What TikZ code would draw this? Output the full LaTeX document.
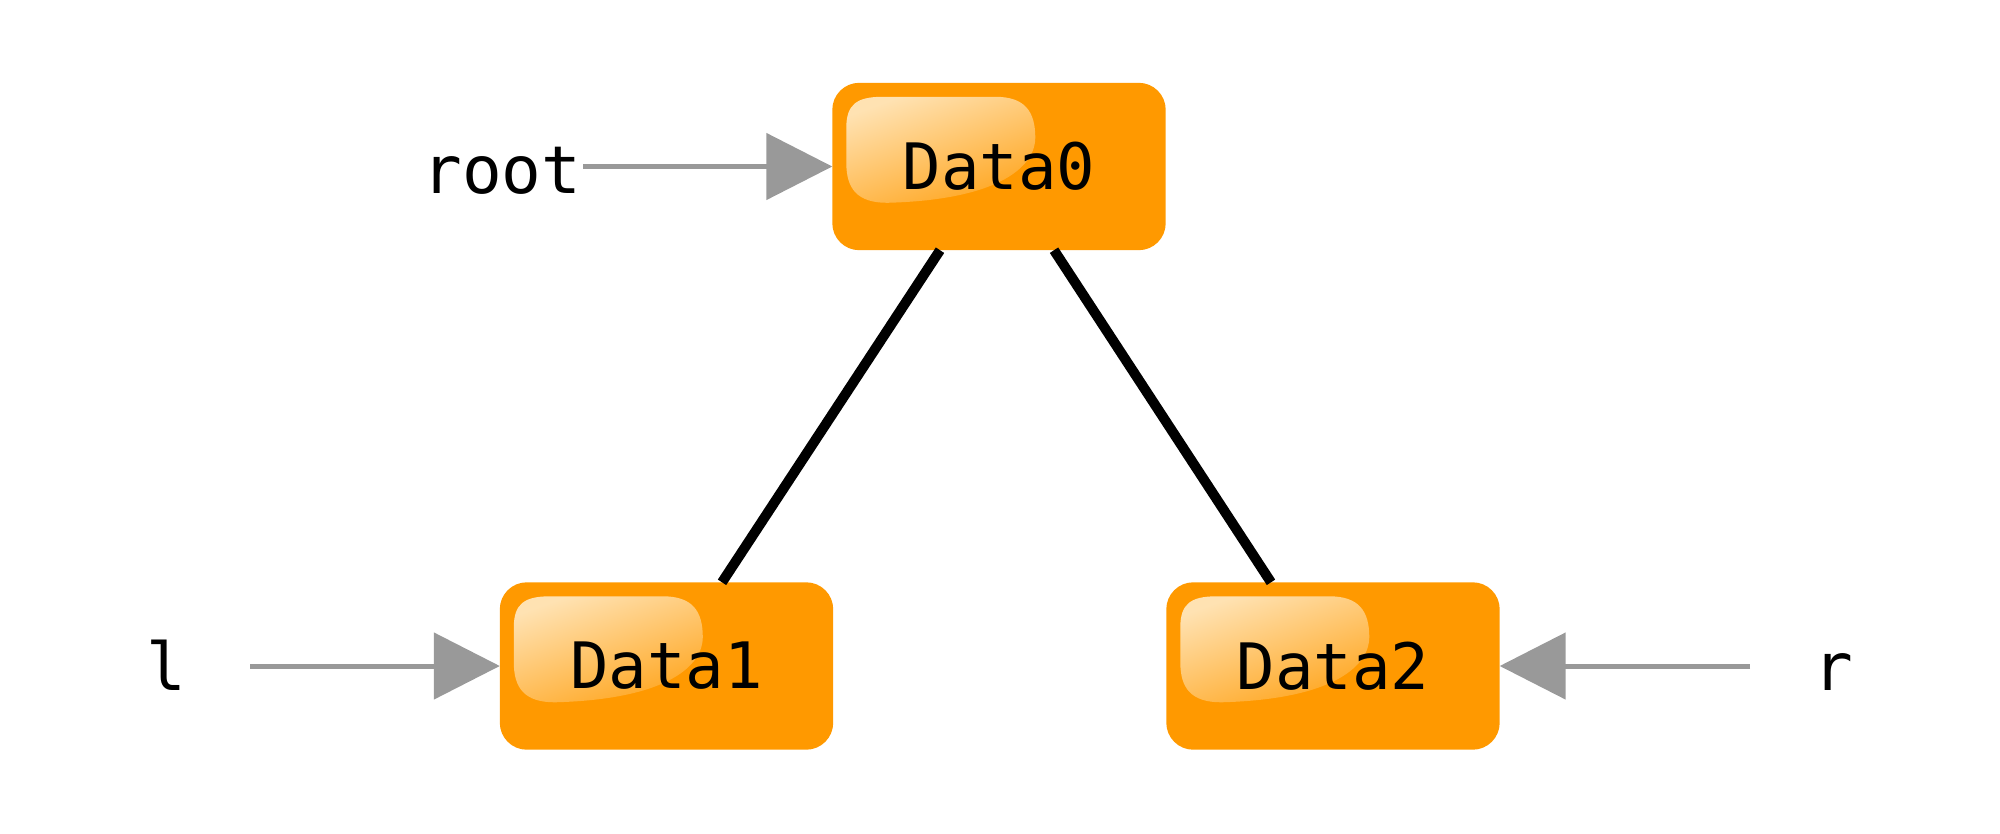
\documentclass[tikz,border=0pt]{standalone}
\usepackage{fontspec}
\newfontfamily\datafont{DejaVu Sans Mono}
\usetikzlibrary{arrows.meta,calc}
\pgfdeclarelayer{boxlayer}
\pgfdeclarelayer{glosslayer}
\pgfsetlayers{boxlayer,glosslayer,main}
\definecolor{boxorange}{RGB}{255,153,0}
\definecolor{hltop}{RGB}{255,226,178}
\definecolor{hlbot}{RGB}{255,166,32}
\definecolor{ptrgray}{RGB}{153,153,153}
\tikzset{
  databox/.style={rectangle, minimum width=333pt, minimum height=167pt, inner sep=0pt,
    font=\datafont\fontsize{64}{70}\selectfont},
  boxfill/.style={fill=boxorange, rounded corners=27pt},
  gloss/.style={top color=hltop, bottom color=hlbot, shading angle=20},
  ptrlabel/.style={font=\datafont\fontsize{66}{72}\selectfont, inner sep=0pt, anchor=base},
  ptrarrow/.style={draw=ptrgray, line width=5pt, -{Triangle[length=66pt,width=66pt]}},
  edge/.style={line width=10pt, black}
}
\newcommand{\glossbox}[1]{%
  \begin{pgfonlayer}{boxlayer}
    \path[boxfill] (#1.north west) rectangle (#1.south east);
  \end{pgfonlayer}
  \begin{pgfonlayer}{glosslayer}
    \begin{scope}[shift={(#1.north west)}]
      \shade[gloss]
        (14,50) -- (14,45) .. controls (14,22) and (24,14) .. (50,14)
        -- (163,14) .. controls (192,14) and (203,28) .. (203,55)
        .. controls (203,82) and (170,117) .. (55,120)
        .. controls (25,120) and (14,106) .. (14,80) -- cycle;
    \end{scope}
  \end{pgfonlayer}}
\begin{document}
\begin{tikzpicture}[x=1pt,y=-1pt]
\useasboundingbox (0,0) rectangle (2000,833);
\node[databox] (d0) at (999,166.5) {Data0};
\node[databox] (d1) at (666.5,666) {Data1};
\node[databox] (d2) at (1333,666) {Data2};
\glossbox{d0}
\glossbox{d1}
\glossbox{d2}
\node[ptrlabel] (root) at (502,193) {root};
\node[ptrlabel] (l) at (166,690) {l};
\node[ptrlabel] (r) at (1833,690) {r};
\coordinate (rootstart) at (583,166.5);
\coordinate (lstart) at (250,666);
\coordinate (rstart) at (1750,666);
\draw[ptrarrow] (rootstart) -- (d0.west);
\draw[ptrarrow] (lstart) -- (d1.west);
\draw[ptrarrow] (rstart) -- (d2.east);
\draw[edge] ([xshift=-59pt]d0.south) -- ([xshift=55.5pt]d1.north);
\draw[edge] ([xshift=55pt]d0.south) -- ([xshift=-62pt]d2.north);
\end{tikzpicture}
\end{document}
